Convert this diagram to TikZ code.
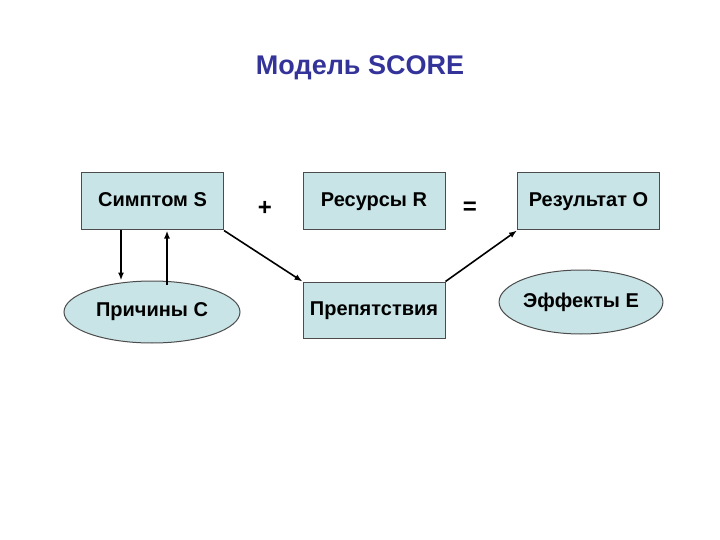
\documentclass[tikz,border=0pt]{standalone}
\usepackage{fontspec}
\setmainfont{Liberation Sans}
\usetikzlibrary{shapes.geometric,arrows.meta}
\definecolor{boxfill}{HTML}{C8E4E6}
\definecolor{titleblue}{HTML}{333399}
\tikzset{
  box/.style={draw=black!70, line width=1pt, fill=boxfill, minimum width=142pt, minimum height=57pt, font=\bfseries\fontsize{20}{22}\selectfont, inner sep=0pt, text height=12pt, text depth=2pt},
  oval/.style={draw=black!70, line width=1pt, fill=boxfill, ellipse, inner sep=0pt, font=\bfseries\fontsize{20}{22}\selectfont},
  conn/.style={draw=black, line width=1.6pt, -{Latex[length=8pt,width=6pt]}},
  sym/.style={font=\bfseries\fontsize{24}{26}\selectfont}
}
\begin{document}
\begin{tikzpicture}[x=1pt,y=-1pt]
\useasboundingbox (0,0) rectangle (720,540);
\node[font=\bfseries\fontsize{27}{30}\selectfont, text=titleblue] (title) at (360,68) {Модель SCORE};
\node[box] (s) at (152.5,201.5) {Симптом S};
\node[box] (r) at (374,201.5) {Ресурсы R};
\node[box] (o) at (588.5,201.5) {Результат O};
\node[box, minimum height=56pt] (p) at (374,310) {Препятствия};
\node[oval, minimum width=176pt, minimum height=62pt] (c) at (152,312) {Причины C};
\node[oval, minimum width=162pt, minimum height=64pt] (e) at (581,302) {Эффекты E};
\node[sym] (plus) at (265,208) {+};
\node[sym] (eq) at (470,208) {=};
\draw[conn] (s.south west) ++(40,0) coordinate (a1) -- (a1 |- c.north);
\draw[conn] (c.north) ++(15,4) coordinate (a2) -- (a2 |- s.south);
\draw[conn] (s.south east) -- (p.north west);
\draw[conn] (p.north east) -- (o.south west);
\end{tikzpicture}
\end{document}
